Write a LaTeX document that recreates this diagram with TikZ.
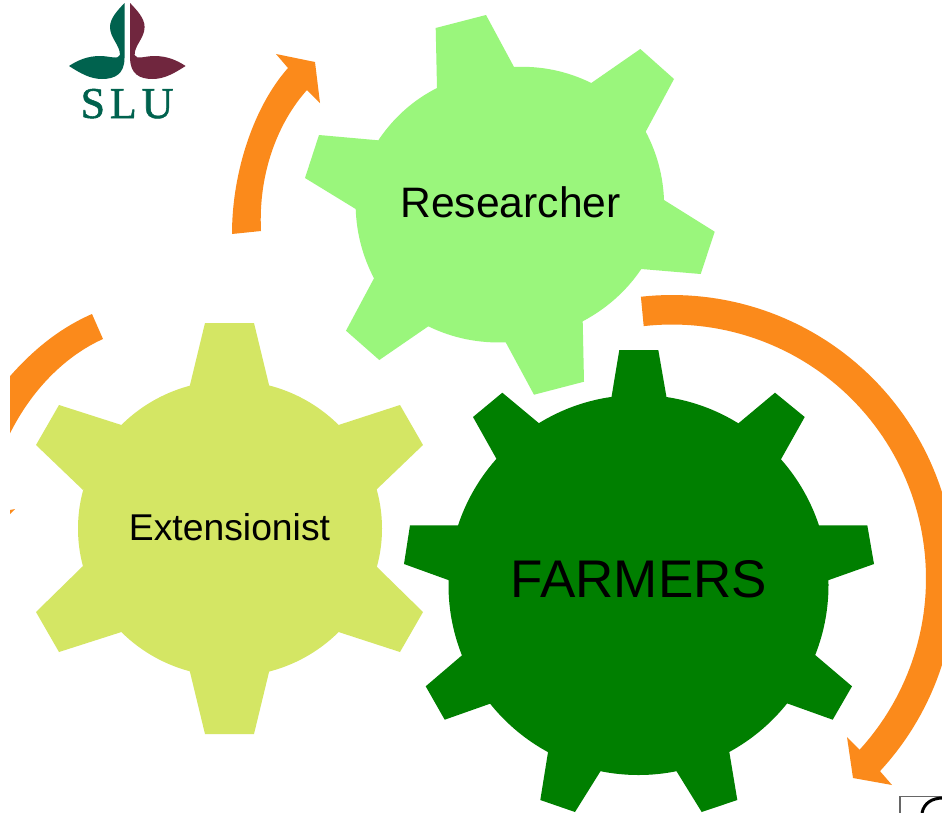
\documentclass[tikz,border=0pt]{standalone}
\usepackage{fontspec}
\setmainfont{Liberation Sans}
\newfontfamily\logofont[LetterSpace=11,FakeBold=1.2]{Liberation Serif}
\definecolor{orangearc}{RGB}{251,138,27}
\definecolor{gearlight}{RGB}{154,246,124}
\definecolor{gearlime}{RGB}{212,230,100}
\definecolor{geardark}{RGB}{0,127,0}
\definecolor{slugreen}{RGB}{0,98,78}
\definecolor{slured}{RGB}{112,38,62}
\tikzset{
  researchgear/.style={fill=gearlight},
  extgear/.style={fill=gearlime},
  farmgear/.style={fill=geardark},
  flow/.style={fill=orangearc},
  geartext/.style={anchor=base,inner sep=0pt,text=black}
}
\begin{document}
\begin{tikzpicture}[x=1pt,y=-1pt]
\useasboundingbox (0,0) rectangle (942,812);
\fill[white] (0,0) rectangle (942,812);
\begin{scope}
\clip (10,0) rectangle (942,812);
% flow arrows
\fill[flow] plot[domain=-96.3:42.8,samples=90] ({672+283.5*cos(\x)},{578.5+283.5*sin(\x)})
  -- (892,785) -- (853,778) -- (847,737) -- (860,750)
  -- plot[domain=42.4:-96.4,samples=90] ({672+254*cos(\x)},{578.5+254*sin(\x)}) -- cycle;
\fill[flow] (232,234) .. controls (232,170) and (255,105) .. (288,68)
  -- (276,54) -- (315,62) -- (320,103) -- (307,90)
  .. controls (280,120) and (258,170) .. (261,231) -- cycle;
\fill[flow] (92,314) .. controls (60,328) and (32,350) .. (5,382)
  -- (5,444) .. controls (28,392) and (65,356) .. (103,339) -- cycle;
\fill[flow] (5,519) -- (15,509) -- (5,511) -- cycle;
\end{scope}
% researcher gear
\fill[researchgear] (437,88) -- (435.7,28) -- (486,15) -- (514,67)
  .. controls (541.1,65.7) and (566.9,71) .. (591.3,83) -- (640.3,49) -- (674,79) -- (645.7,131.7)
  .. controls (657,153.1) and (663.1,175.9) .. (664,200) -- (714.7,231.7) -- (700.7,274) -- (641.3,269)
  .. controls (626.4,291) and (606.9,308.4) .. (582.7,321.3) -- (584,381.7) -- (534,394.7) -- (505.7,342.3)
  .. controls (478.6,343.4) and (452.8,338.2) .. (428.3,326.3) -- (379.3,360) -- (346,330.7) -- (374,278.3)
  .. controls (362.7,256.6) and (356.6,233.5) .. (355.7,209) -- (305,178) -- (319,135) -- (378.3,140.3)
  .. controls (393.2,118.1) and (412.7,100.3) .. (437,88) -- cycle;
% extensionist gear
\fill[extgear] (230,528.5) ellipse [x radius=152,y radius=148];
\fill[extgear] (189.5,387) -- (205,323) -- (254,323) -- (269.5,387) -- cycle;
\fill[extgear] (337,425.5) -- (400,405) -- (423,445) -- (376,490) -- cycle;
\fill[extgear] (376,566) -- (423,612) -- (400,652) -- (337,631.5) -- cycle;
\fill[extgear] (269.5,670) -- (254,734) -- (205,734) -- (189.5,670) -- cycle;
\fill[extgear] (123,631.5) -- (59,652) -- (36,612) -- (83,566) -- cycle;
\fill[extgear] (83,490) -- (36,445) -- (59,405) -- (123,425.5) -- cycle;
% farmers gear
\fill[farmgear] (638.5,585) circle [radius=190];
\fill[farmgear] (611,400) -- (619.3,350) -- (658.3,350) -- (667,400) -- cycle;
\fill[farmgear] (737,424.5) -- (775,392.7) -- (804.7,417) -- (780,461) -- cycle;
\fill[farmgear] (812,525.3) -- (867.3,525.3) -- (874,564) -- (826,581) -- cycle;
\fill[farmgear] (814,654) -- (852,686.3) -- (832.7,719.7) -- (785,702.6) -- cycle;
\fill[farmgear] (729,750.3) -- (737.3,800) -- (701.7,812) -- (676,770.4) -- cycle;
\fill[farmgear] (601,770.4) -- (575,812) -- (540.3,800) -- (548.3,750.3) -- cycle;
\fill[farmgear] (492,703) -- (444.7,719.7) -- (425.7,686.3) -- (463.5,654) -- cycle;
\fill[farmgear] (451,581) -- (404,564) -- (410,525.3) -- (465,525.3) -- cycle;
\fill[farmgear] (497.7,461) -- (473,417) -- (502.3,392.7) -- (540.5,424.5) -- cycle;
% labels
\node[geartext,font=\fontsize{42.6}{50}\selectfont] (researcher) at (510.5,217.7) {Researcher};
\node[geartext,font=\fontsize{37.3}{44}\selectfont] (extensionist) at (229.5,540) {Extensionist};
\node[geartext,font=\fontsize{53}{60}\selectfont] (farmers) at (639,597.5) {FARMERS};
% SLU logo
\fill[slugreen] (124.5,3) .. controls (118,10) and (110,18) .. (110,27)
  .. controls (110,38) and (120,45) .. (120,55)
  .. controls (118,60) and (110,56) .. (100,56)
  .. controls (88,56) and (78,60) .. (69,66)
  .. controls (80,73) and (90,79) .. (102,79)
  .. controls (115,79) and (124.5,74) .. (124.5,58) -- cycle;
\fill[slured] (130.1,3) .. controls (136.6,10) and (144.6,18) .. (144.6,27)
  .. controls (144.6,38) and (134.6,45) .. (134.6,55)
  .. controls (136.6,60) and (144.6,56) .. (154.6,56)
  .. controls (166.6,56) and (176.6,60) .. (185.6,66)
  .. controls (174.6,73) and (164.6,79) .. (152.6,79)
  .. controls (139.6,79) and (130.1,74) .. (130.1,58) -- cycle;
\node[anchor=base,inner sep=0pt,text=slugreen,font=\logofont\fontsize{44}{48}\selectfont] (slu) at (127,118) {SLU};
% corner fragment
\fill[white,draw=black!60,line width=1.6pt] (899.8,813) -- (899.8,796.5) -- (943,796.5);
\draw[black,line width=3pt] (922,813) .. controls (924,803) and (932,798) .. (943,798);
\end{tikzpicture}
\end{document}
